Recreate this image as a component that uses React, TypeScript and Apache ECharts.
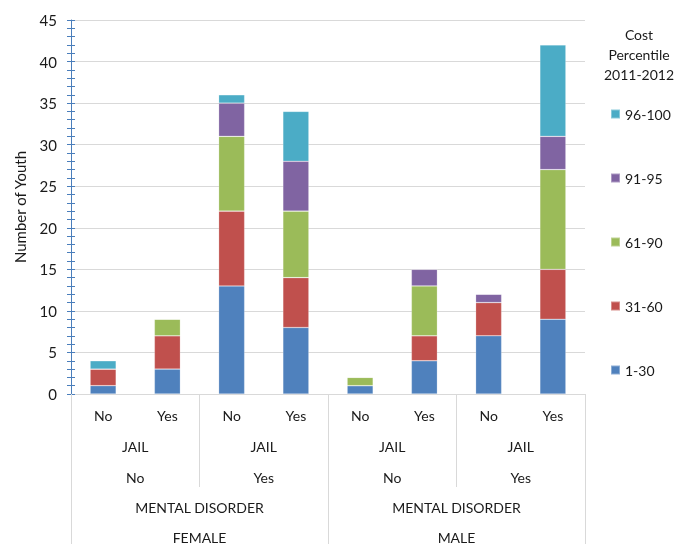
import React, { useEffect, useRef } from "react";
import * as echarts from "echarts";

const jailLabels = ["No", "Yes", "No", "Yes", "No", "Yes", "No", "Yes"];
const jailTitles = ["JAIL", "JAIL", "JAIL", "JAIL"];
const mentalLabels = ["No", "Yes", "No", "Yes"];
const mentalTitles = ["MENTAL DISORDER", "MENTAL DISORDER"];
const genderLabels = ["FEMALE", "MALE"];

const seriesNames = ["1-30", "31-60", "61-90", "91-95", "96-100"];
const p1to30 = [1, 3, 13, 8, 1, 4, 7, 9];
const p31to60 = [2, 4, 9, 6, 0, 3, 4, 6];
const p61to90 = [0, 2, 9, 8, 1, 6, 0, 12];
const p91to95 = [0, 0, 4, 6, 0, 2, 1, 4];
const p96to100 = [1, 0, 1, 6, 0, 0, 0, 11];
const seriesValues = [p1to30, p31to60, p61to90, p91to95, p96to100];
const colors = ["#4F81BD", "#C0504D", "#9BBB59", "#8064A2", "#4BACC6"];
const legendOrder = ["96-100", "91-95", "61-90", "31-60", "1-30"];

const FONT = "Lato";
const TXT = "#1a1a1a";
const GRIDC = "#d9d9d9";
const AXISBLUE = "#4a7ebb";

export default function App() {
  const ref = useRef<HTMLDivElement>(null);
  useEffect(() => {
    if (!ref.current) return;
    const chart = echarts.init(ref.current, undefined, { renderer: "svg" });
    const labelAxis = (data: string[], offset: number) => ({
      type: "category",
      data,
      gridIndex: 0,
      position: "bottom",
      offset,
      axisLine: { show: false },
      axisTick: { show: false },
      splitLine: { show: false },
      axisLabel: { interval: 0, margin: 14, fontFamily: FONT, fontSize: 14, color: TXT },
    });
    const tickAxis = (data: string[], len: number) => ({
      type: "category",
      data,
      gridIndex: 0,
      position: "bottom",
      offset: 0,
      axisLine: { show: false },
      axisLabel: { show: false },
      axisTick: { show: true, length: len, lineStyle: { color: GRIDC, width: 1 } },
      splitLine: { show: false },
    });
    chart.setOption({
      animation: false,
      grid: { left: 71, right: 105, top: 20, bottom: 150, containLabel: false },
      graphic: [
        {
          type: "text",
          x: 639,
          y: 24,
          style: {
            text: "Cost\nPercentile\n2011-2012",
            font: `14px ${FONT}`,
            fill: TXT,
            align: "center",
            verticalAlign: "top",
            lineHeight: 20,
          },
        },
      ],
      legend: {
        orient: "vertical",
        left: 605,
        top: 101,
        itemWidth: 9,
        itemHeight: 9,
        itemGap: 48,
        icon: "rect",
        data: legendOrder,
        textStyle: { fontFamily: FONT, fontSize: 14, color: TXT, lineHeight: 16 },
      },
      xAxis: [
        {
          type: "category",
          data: jailLabels,
          position: "bottom",
          axisLine: { show: true, lineStyle: { color: GRIDC } },
          axisTick: { show: false },
          axisLabel: { interval: 0, margin: 14, fontFamily: FONT, fontSize: 14, color: TXT },
        },
        labelAxis(jailTitles, 31),
        labelAxis(mentalLabels, 62),
        labelAxis(mentalTitles, 92),
        labelAxis(genderLabels, 122),
        tickAxis(mentalLabels, 93),
        tickAxis(genderLabels, 150),
      ],
      yAxis: [
        {
          type: "value",
          min: 0,
          max: 45,
          interval: 5,
          position: "left",
          name: "Number of Youth",
          nameLocation: "middle",
          nameGap: 44,
          nameTextStyle: { fontFamily: FONT, fontSize: 15, color: TXT },
          axisLine: { show: true, lineStyle: { color: AXISBLUE } },
          axisTick: { show: true, length: 4, lineStyle: { color: AXISBLUE } },
          minorTick: { show: true, splitNumber: 5, length: 4, lineStyle: { color: AXISBLUE } },
          axisLabel: { margin: 14, fontFamily: FONT, fontSize: 15, color: TXT },
          splitLine: { show: true, lineStyle: { color: GRIDC, width: 1 } },
        },
        {
          type: "value",
          min: 0,
          max: 45,
          interval: 5,
          position: "left",
          axisLine: { show: false },
          axisTick: { show: true, inside: true, length: 4, lineStyle: { color: AXISBLUE } },
          minorTick: { show: true, splitNumber: 5, length: 4, lineStyle: { color: AXISBLUE } },
          axisLabel: { show: false },
          splitLine: { show: false },
        },
      ],
      series: seriesNames.map((name, i) => ({
        name,
        type: "bar",
        stack: "total",
        xAxisIndex: 0,
        yAxisIndex: 0,
        barWidth: 26,
        data: seriesValues[i],
        itemStyle: { color: colors[i], borderColor: "rgba(255,255,255,0.35)", borderWidth: 0.6 },
      })),
    });
    return () => chart.dispose();
  }, []);
  return <div ref={ref} style={{ position: "fixed", left: 0, top: 0, width: 690, height: 544 }} />;
}
